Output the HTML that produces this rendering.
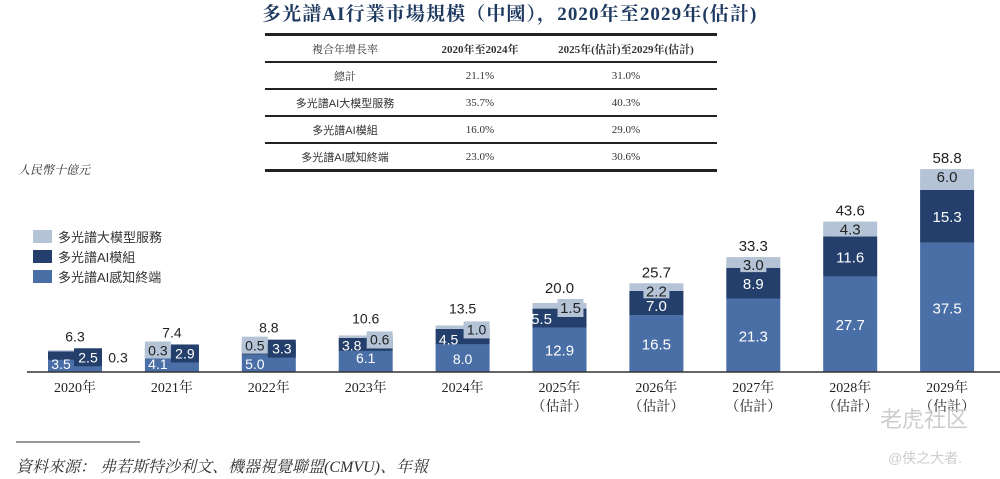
<!DOCTYPE html>
<html><head><meta charset="utf-8">
<style>
body{margin:0;background:#fff;width:1000px;height:479px;overflow:hidden;position:relative;font-family:"Liberation Sans","Noto Sans CJK TC",sans-serif;}
.serif{font-family:"Liberation Serif","Noto Serif CJK SC",serif;}
#title{position:absolute;left:262px;top:3px;font-size:19px;line-height:24px;letter-spacing:1.1px;font-weight:bold;color:#1f3a60;white-space:nowrap;}
table{position:absolute;left:265px;top:33px;width:452px;border-collapse:collapse;font-size:11px;color:#333;}
td{text-align:center;height:25px;border-bottom:2px solid #222;padding:0;}
tr:first-child td{border-top:3px solid #222;}
tr:last-child td{border-bottom:3px solid #222;}
</style></head><body>
<div id="title" class="serif">多光譜AI行業市場規模（中國），2020年至2029年(估計)</div>
<table class="serif">
<tr><td style="width:160px">複合年增長率</td><td style="font-weight:bold;width:110px">2020年至2024年</td><td style="font-weight:bold">2025年(估計)至2029年(估計)</td></tr>
<tr><td>總計</td><td>21.1%</td><td>31.0%</td></tr>
<tr><td style="font-family:'Liberation Sans','Noto Sans CJK TC',sans-serif">多光譜AI大模型服務</td><td>35.7%</td><td>40.3%</td></tr>
<tr><td style="font-family:'Liberation Sans','Noto Sans CJK TC',sans-serif">多光譜AI模組</td><td>16.0%</td><td>29.0%</td></tr>
<tr><td style="font-family:'Liberation Sans','Noto Sans CJK TC',sans-serif">多光譜AI感知終端</td><td>23.0%</td><td>30.6%</td></tr>
</table>
<svg id="chart" width="1000" height="479" style="position:absolute;left:0;top:0">
<text x="18" y="174" font-size="12" font-style="italic" fill="#333" class="serif">人民幣十億元</text>
<g>
<rect x="33" y="230" width="19" height="13" fill="#b4c3d6"/>
<text x="58" y="242" font-size="13" fill="#333">多光譜大模型服務</text>
<rect x="33" y="250" width="19" height="13" fill="#243f6c"/>
<text x="58" y="262" font-size="13" fill="#333">多光譜AI模組</text>
<rect x="33" y="270" width="19" height="13" fill="#4a6ea6"/>
<text x="58" y="282" font-size="13" fill="#333">多光譜AI感知終端</text>
</g>
<g id="bars"></g>
<line x1="27" y1="372" x2="1000" y2="372" stroke="#333" stroke-width="1.5"/>
<line x1="16" y1="442" x2="140" y2="442" stroke="#333" stroke-width="1"/>
<text x="16" y="472" font-size="16" font-style="italic" fill="#333" class="serif">資料來源： 弗若斯特沙利文、機器視覺聯盟(CMVU)、年報</text>
<text x="880" y="427" font-size="22" fill="#ccc">老虎社区</text>
<text x="888" y="463" font-size="14" fill="#ccc">@侠之大者.</text>
</svg>
<script>
const years=["2020年","2021年","2022年","2023年","2024年","2025年","2026年","2027年","2028年","2029年"];
const estimated=[false,false,false,false,false,true,true,true,true,true];
const terminal=[3.5,4.1,5.0,6.1,8.0,12.9,16.5,21.3,27.7,37.5];
const modules=[2.5,2.9,3.3,3.8,4.5,5.5,7.0,8.9,11.6,15.3];
const llm=[0.3,0.3,0.5,0.6,1.0,1.5,2.2,3.0,4.3,6.0];
const totals=[6.3,7.4,8.8,10.6,13.5,20.0,25.7,33.3,43.6,58.8];
const base=372, k=3.45, bw=54;
const xc=i=>75+i*96.9;
const y=v=>base-v*k;
const g=document.getElementById('bars');
const NS='http://www.w3.org/2000/svg';
function mk(t,a){const e=document.createElementNS(NS,t);for(const n in a)e.setAttribute(n,a[n]);g.appendChild(e);return e;}
function txt(x,yy,s,fill,size,anchor,cls){const e=mk('text',{x:x,y:yy,'font-size':size,fill:fill,'text-anchor':anchor||'middle'});if(cls)e.setAttribute('class',cls);e.textContent=s;return e;}
years.forEach((yr,i)=>{
  const x0=xc(i)-bw/2, small=i<5;
  const r1=mk('rect',{x:x0,y:y(terminal[i]),width:bw,height:terminal[i]*k,fill:'#4a6ea6'});
  
  
  const r2=mk('rect',{x:x0,y:y(terminal[i]+modules[i]),width:bw,height:modules[i]*k,fill:'#243f6c'});
  
  
  const r3=mk('rect',{x:x0,y:y(totals[i]),width:bw,height:llm[i]*k,fill:'#b4c3d6'});
  
  
  const top=y(totals[i]);
  if(!small){
    txt(xc(i),(base+y(terminal[i]))/2+6,terminal[i].toFixed(1),'#fff',15);
    const mm=(y(terminal[i])+y(terminal[i]+modules[i]))/2;
    txt(i==5?xc(i)-18:xc(i),mm+(i==6?8:6),modules[i].toFixed(1),'#fff',15);
    if(i==5){mk('rect',{x:xc(i)-2,y:top-4,width:26,height:18,fill:'#b4c3d6'});txt(xc(i)+11,top+10,llm[i].toFixed(1),'#222',15);}
    else{mk('rect',{x:xc(i)-13,y:top,width:26,height:15,fill:'#b4c3d6'});txt(xc(i),top+13,llm[i].toFixed(1),'#222',15);}
    txt(xc(i),top-(i==5?10:6),totals[i].toFixed(1),'#222',15);
  } else if(i<3){
    txt(xc(i)-14,base-3,terminal[i].toFixed(1),'#fff',14);
    const mx=xc(i)+13, my=top+12;
    mk('rect',{x:mx-14,y:my-14,width:28,height:18,fill:'#243f6c'});
    txt(mx,my,modules[i].toFixed(1),'#fff',14);
    if(i==0){txt(xc(i)+43,my,llm[i].toFixed(1),'#222',14);}
    else{const lx=xc(i)-14;mk('rect',{x:lx-13,y:top-5,width:26,height:17,fill:'#b4c3d6'});txt(lx,top+9,llm[i].toFixed(1),'#222',14);}
    txt(xc(i),top-9,totals[i].toFixed(1),'#222',14);
  } else {
    txt(xc(i),base-(i==3?9:8),terminal[i].toFixed(1),'#fff',14);
    txt(xc(i)-14,top+(i==3?15:19),modules[i].toFixed(1),'#fff',14);
    const lx=xc(i)+14;
    mk('rect',{x:lx-13,y:top-4,width:26,height:17,fill:'#b4c3d6'});
    txt(lx,top+9,llm[i].toFixed(1),'#222',14);
    txt(xc(i),top-12,totals[i].toFixed(1),'#222',14);
  }
  const l=txt(xc(i),392,yr,'#222',14,'middle','serif');
  
  
  if(estimated[i]){const e=txt(xc(i),411,'（估計）','#222',14,'middle','serif');
    
    }
});
</script>
</body></html>
